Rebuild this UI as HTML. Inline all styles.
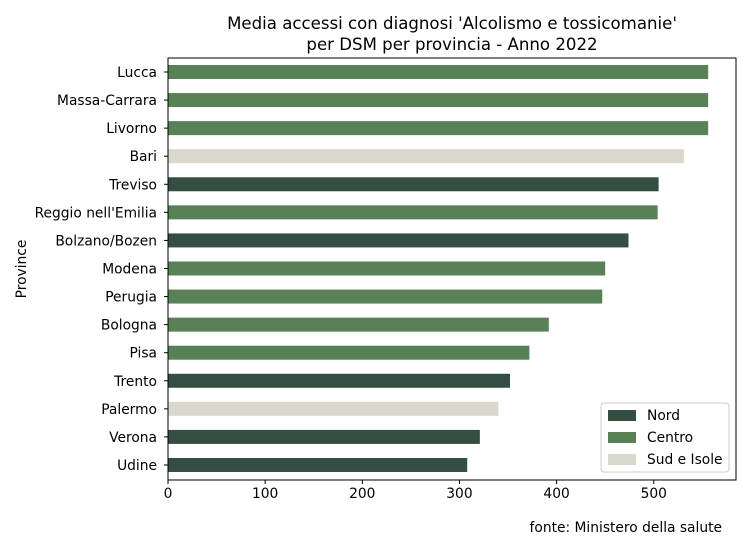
<!DOCTYPE html>
<html><head><meta charset="utf-8"><style>
body{margin:0;background:#fff;font-family:"Liberation Sans","DejaVu Sans",sans-serif;}
svg text{font-family:"DejaVu Sans","Liberation Sans",sans-serif;}
</style></head><body>
<svg id="chart" width="750" height="550" xmlns="http://www.w3.org/2000/svg">
<rect width="750" height="550" fill="#fff"/>
<text x="452" y="29" font-size="16.6" text-anchor="middle">Media accessi con diagnosi 'Alcolismo e tossicomanie'</text>
<text x="452" y="50" font-size="16.6" text-anchor="middle">per DSM per provincia - Anno 2022</text>
<g id="bars"></g>
<g id="axes"></g>
<text transform="translate(26,269) rotate(-90)" font-size="13.8" text-anchor="middle">Province</text>
<text x="722" y="532" font-size="13.8" text-anchor="end">fonte: Ministero della salute</text>
<g>
<rect x="601" y="403" width="128" height="69" fill="#fff" stroke="#ccc" rx="3"/>
<rect x="608" y="410" width="28" height="11" fill="#344e41"/>
<text x="647" y="420" font-size="13.8">Nord</text>
<rect x="608" y="432" width="28" height="11" fill="#588157"/>
<text x="647" y="442" font-size="13.8">Centro</text>
<rect x="608" y="454" width="28" height="11" fill="#dad7cd"/>
<text x="647" y="464" font-size="13.8">Sud e Isole</text>
</g>
</svg>
<script>
const categories=["Lucca","Massa-Carrara","Livorno","Bari","Treviso","Reggio nell'Emilia","Bolzano/Bozen","Modena","Perugia","Bologna","Pisa","Trento","Palermo","Verona","Udine"];
const values=[556,556,556,531,505,504,474,450,447,392,372,352,340,321,308];
const regions=["Centro","Centro","Centro","Sud","Nord","Centro","Nord","Centro","Centro","Centro","Centro","Nord","Sud","Nord","Nord"];
const xTicks=[0,100,200,300,400,500];
const colors={Nord:"#344e41",Centro:"#588157",Sud:"#dad7cd"};
const L=168,R=736,T=58,B=480,pxPer=0.9715;
const x=v=>L+v*pxPer;
const y=i=>72+i*28.07;
const ns="http://www.w3.org/2000/svg";
const bars=document.getElementById('bars'),axes=document.getElementById('axes');
function mk(tag,attrs,parent){const e=document.createElementNS(ns,tag);for(const k in attrs)e.setAttribute(k,attrs[k]);parent.appendChild(e);return e;}
categories.forEach((c,i)=>{
 const r=mk('rect',{x:L,y:y(i)-7,width:x(values[i])-L,height:14,fill:colors[regions[i]]},bars);
 
 
 const t=mk('text',{x:L-11,y:y(i)+5,'font-size':13.8,'text-anchor':'end'},axes);t.textContent=c;
 
 
 mk('line',{x1:L-4,x2:L,y1:y(i),y2:y(i),stroke:'#000'},axes);
});
xTicks.forEach(v=>{
 mk('line',{x1:x(v),x2:x(v),y1:B,y2:B+4,stroke:'#000'},axes);
 const t=mk('text',{x:x(v),y:B+18,'font-size':13.8,'text-anchor':'middle'},axes);t.textContent=v;
 
 
});
const f=mk('rect',{x:L,y:T,width:R-L,height:B-T,fill:'none',stroke:'#000','stroke-width':1},axes);


</script>
</body></html>
